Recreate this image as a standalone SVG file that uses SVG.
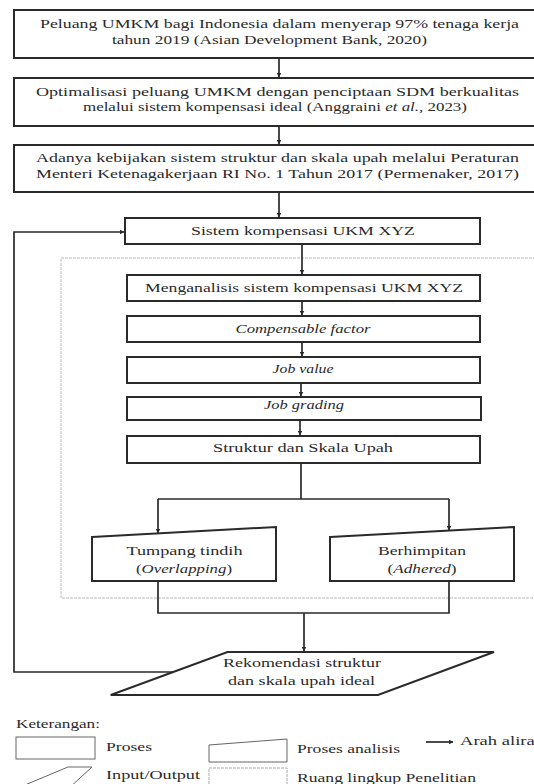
<svg xmlns="http://www.w3.org/2000/svg" width="534" height="784" viewBox="0 0 534 784">
<style>
.box{fill:#fff;stroke:#2a2a2a;stroke-width:2}
.ln{fill:none;stroke:#2a2a2a;stroke-width:1.7}
.scope{fill:none;stroke:#bbb;stroke-width:1;stroke-dasharray:3 1}
text{font-family:"Liberation Serif","DejaVu Serif",serif;font-size:13px;fill:#2a2a2a;text-anchor:middle}
.lg{text-anchor:start}
.it{font-style:italic}
</style>
<defs>
<marker id="ah" viewBox="0 0 10 10" refX="9" refY="5" markerWidth="5" markerHeight="5" orient="auto" markerUnits="userSpaceOnUse">
<path d="M0,0 L10,5 L0,10 z" fill="#2a2a2a"/>
</marker>
</defs>
<rect width="534" height="784" fill="#fff"/>
<rect class="scope" x="61" y="258" width="480" height="340"/>

<g id="n1"><rect class="box" x="14" y="10" width="530" height="48"/>
<text x="279.5" y="28" textLength="479" lengthAdjust="spacingAndGlyphs">Peluang UMKM bagi Indonesia dalam menyerap 97% tenaga kerja</text>
<text x="269.5" y="44" textLength="315" lengthAdjust="spacingAndGlyphs">tahun 2019 (Asian Development Bank, 2020)</text></g>

<g id="n2"><rect class="box" x="14" y="78" width="530" height="48"/>
<text x="277.5" y="96" textLength="483" lengthAdjust="spacingAndGlyphs">Optimalisasi peluang UMKM dengan penciptaan SDM berkualitas</text>
<text x="275" y="111" textLength="384" lengthAdjust="spacingAndGlyphs">melalui sistem kompensasi ideal (Anggraini <tspan class="it">et al.</tspan>, 2023)</text></g>

<g id="n3"><rect class="box" x="14" y="145" width="530" height="47"/>
<text x="277.5" y="162" textLength="483" lengthAdjust="spacingAndGlyphs">Adanya kebijakan sistem struktur dan skala upah melalui Peraturan</text>
<text x="277.5" y="178" textLength="483" lengthAdjust="spacingAndGlyphs">Menteri Ketenagakerjaan RI No. 1 Tahun 2017 (Permenaker, 2017)</text></g>

<g id="n4"><rect class="box" x="125" y="218" width="355" height="26"/>
<text x="303" y="235" textLength="224" lengthAdjust="spacingAndGlyphs">Sistem kompensasi UKM XYZ</text></g>

<g id="n5"><rect class="box" x="127" y="275" width="353" height="26"/>
<text x="304" y="292" textLength="318" lengthAdjust="spacingAndGlyphs">Menganalisis sistem kompensasi UKM XYZ</text></g>

<g id="n6"><rect class="box" x="127" y="316" width="353" height="26"/>
<text class="it" x="303" y="333" textLength="135" lengthAdjust="spacingAndGlyphs">Compensable factor</text></g>

<g id="n7"><rect class="box" x="127" y="357" width="353" height="26"/>
<text class="it" x="303" y="373" textLength="61" lengthAdjust="spacingAndGlyphs">Job value</text></g>

<g id="n8"><rect class="box" x="127" y="397" width="354" height="23"/>
<text class="it" x="304" y="409" textLength="80" lengthAdjust="spacingAndGlyphs">Job grading</text></g>

<g id="n9"><rect class="box" x="127" y="436" width="353" height="27"/>
<text x="303" y="452" textLength="180" lengthAdjust="spacingAndGlyphs">Struktur dan Skala Upah</text></g>

<g id="n10"><polygon class="box" points="92,537 276,527 276,581 92,581"/>
<text x="184.5" y="555" textLength="116" lengthAdjust="spacingAndGlyphs">Tumpang tindih</text>
<text x="184" y="573" textLength="96" lengthAdjust="spacingAndGlyphs">(<tspan class="it">Overlapping</tspan>)</text></g>

<g id="n11"><polygon class="box" points="330,537 514,527 514,581 330,581"/>
<text x="422" y="555" textLength="88" lengthAdjust="spacingAndGlyphs">Berhimpitan</text>
<text x="422" y="573" textLength="69" lengthAdjust="spacingAndGlyphs">(<tspan class="it">Adhered</tspan>)</text></g>

<g id="n12"><polygon class="box" points="227.5,652 494,652 378,695 110.7,695"/>
<text x="302" y="667" textLength="158" lengthAdjust="spacingAndGlyphs">Rekomendasi struktur</text>
<text x="301.5" y="685" textLength="147" lengthAdjust="spacingAndGlyphs">dan skala upah ideal</text></g>

<g id="connectors">
<line class="ln" x1="279" y1="58" x2="279" y2="77" marker-end="url(#ah)"/>
<line class="ln" x1="279" y1="126" x2="279" y2="144" marker-end="url(#ah)"/>
<line class="ln" x1="279" y1="192" x2="279" y2="217" marker-end="url(#ah)"/>
<line class="ln" x1="302" y1="244" x2="302" y2="274" marker-end="url(#ah)"/>
<line class="ln" x1="302" y1="301" x2="302" y2="315" marker-end="url(#ah)"/>
<line class="ln" x1="302" y1="342" x2="302" y2="356" marker-end="url(#ah)"/>
<line class="ln" x1="301" y1="383" x2="301" y2="396" marker-end="url(#ah)"/>
<line class="ln" x1="300" y1="420" x2="300" y2="435" marker-end="url(#ah)"/>
<polyline class="ln" points="301,463 301,499"/>
<polyline class="ln" points="158,499 449,499"/>
<line class="ln" x1="158" y1="499" x2="158" y2="533" marker-end="url(#ah)"/>
<line class="ln" x1="449" y1="499" x2="449" y2="530" marker-end="url(#ah)"/>
<polyline class="ln" points="158,581 158,613 449,613 449,581"/>
<line class="ln" x1="304" y1="613" x2="304" y2="651" marker-end="url(#ah)"/>
<polyline class="ln" points="173,672 14,672 14,232 124,232" marker-end="url(#ah)"/>
</g>

<g id="legend">
<text class="lg" x="16" y="728" textLength="84" lengthAdjust="spacingAndGlyphs">Keterangan:</text>
<rect x="16" y="737" width="79" height="22" fill="#fff" stroke="#666" stroke-width="1"/>
<text class="lg" x="106" y="751" textLength="46" lengthAdjust="spacingAndGlyphs">Proses</text>
<polygon points="68,767 92,767 67,790 13,790" fill="#fff" stroke="#666" stroke-width="1"/>
<text class="lg" x="106" y="779" textLength="94" lengthAdjust="spacingAndGlyphs">Input/Output</text>
<polygon points="209,745 287,739 287,762 209,762" fill="#fff" stroke="#666" stroke-width="1"/>
<text class="lg" x="297" y="753" textLength="103" lengthAdjust="spacingAndGlyphs">Proses analisis</text>
<rect x="209" y="768" width="78" height="22" fill="#fff" stroke="#aaa" stroke-width="1" stroke-dasharray="3 1"/>
<text class="lg" x="297" y="782" textLength="179" lengthAdjust="spacingAndGlyphs">Ruang lingkup Penelitian</text>
<line class="ln" x1="426" y1="742" x2="453" y2="742" stroke-width="1.2" marker-end="url(#ah)"/>
<text class="lg" x="460" y="745" textLength="84" lengthAdjust="spacingAndGlyphs">Arah aliran</text>
</g>
</svg>
